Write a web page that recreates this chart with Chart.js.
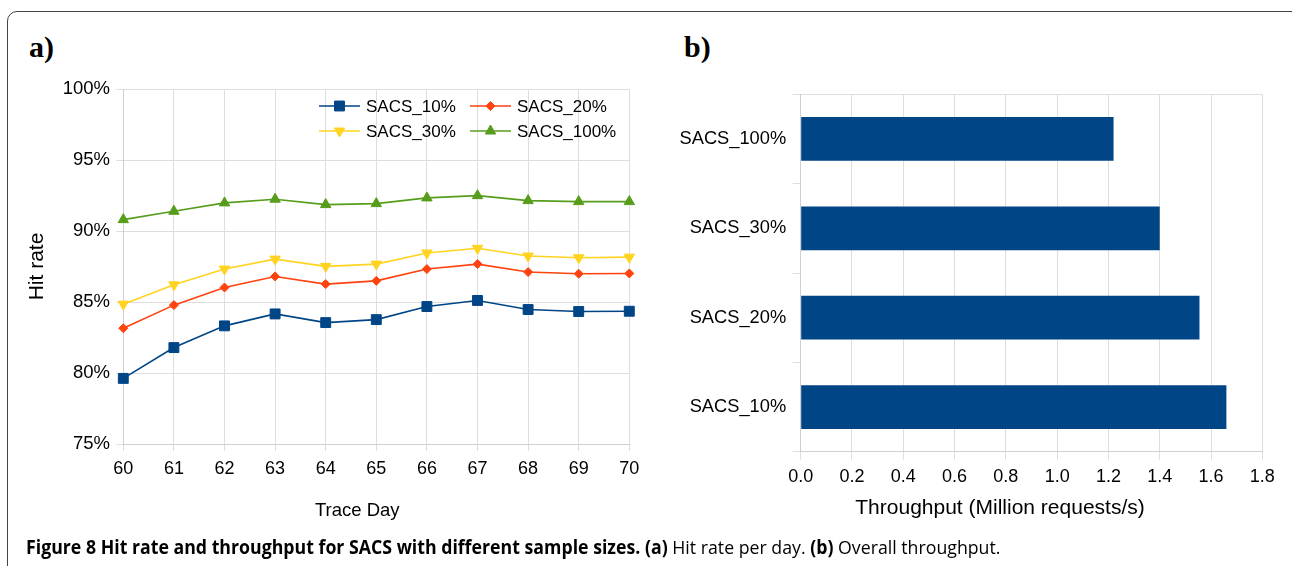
<!DOCTYPE html>
<html><head><meta charset="utf-8">
<script src="https://cdn.jsdelivr.net/npm/chart.js@4.4.1/dist/chart.umd.min.js"></script>
<style>
html,body{margin:0;padding:0;width:1292px;height:566px;overflow:hidden;background:#fff;}
#frame{position:absolute;left:7px;top:11px;width:1310px;height:620px;border:1.5px solid #444;border-radius:10px;box-sizing:border-box;}
.panel{position:absolute;font-family:"Liberation Serif",serif;font-weight:bold;font-size:30px;line-height:30px;color:#000;}
#caption{position:absolute;left:26px;top:538px;font-family:"Open Sans",sans-serif;font-size:19px;line-height:19px;white-space:nowrap;color:#000;transform:scaleX(0.933);transform-origin:0 0;}
.wrap{position:absolute;top:0;height:566px;}
</style></head>
<body>
<div id="frame"></div>
<div class="panel" style="left:29px;top:32px">a)</div>
<div class="panel" style="left:684px;top:32px">b)</div>
<div class="wrap" style="left:0;width:680px"><canvas id="cA"></canvas></div>
<div class="wrap" style="left:660px;width:632px"><canvas id="cB"></canvas></div>
<div id="caption"><b>Figure 8 Hit rate and throughput for SACS with different sample sizes. (a)</b> Hit rate per day. <b>(b)</b> Overall throughput.</div>
<script>
// ---- data ----
const days = ['60','61','62','63','64','65','66','67','68','69','70'];
const sacs10  = [79.62, 81.79, 83.32, 84.16, 83.55, 83.76, 84.68, 85.11, 84.47, 84.33, 84.35];
const sacs20  = [83.15, 84.78, 86.02, 86.80, 86.26, 86.49, 87.32, 87.67, 87.11, 86.99, 87.01];
const sacs30  = [84.85, 86.21, 87.32, 88.02, 87.51, 87.67, 88.45, 88.78, 88.24, 88.12, 88.16];
const sacs100 = [90.80, 91.39, 91.98, 92.24, 91.86, 91.93, 92.33, 92.49, 92.14, 92.07, 92.07];
const seriesLabels = ['SACS_10%','SACS_20%','SACS_30%','SACS_100%'];
const barCategories = ['SACS_100%','SACS_30%','SACS_20%','SACS_10%'];
const throughput = [1.22, 1.40, 1.555, 1.66];

const FAM = '"Liberation Sans", Arial, sans-serif';
Chart.defaults.font.family = FAM;
Chart.defaults.font.size = 17;
Chart.defaults.color = '#000';
Chart.defaults.animation = false;

const GRID = '#dedede', BORDER = '#cfcfcf';

const legendPlugin = {
  id: 'boxLegend',
  afterDraw(chart, args, o) {
    if (!o || !o.display) return;
    const ctx = chart.ctx;
    chart.data.datasets.forEach((ds, i) => {
      const col = i % 2, row = Math.floor(i / 2);
      const x0 = o.x + col * o.colW, y = o.y + row * o.rowH;
      ctx.save();
      ctx.strokeStyle = ds.borderColor; ctx.lineWidth = ds.borderWidth;
      ctx.beginPath(); ctx.moveTo(x0, y); ctx.lineTo(x0 + o.lineLen, y); ctx.stroke();
      ctx.fillStyle = ds.pointBackgroundColor; ctx.strokeStyle = ds.borderColor; ctx.lineWidth = 1;
      Chart.helpers.drawPoint(ctx, {pointStyle: ds.pointStyle, radius: ds.pointRadius, rotation: ds.pointRotation || 0, borderWidth: 1}, x0 + o.lineLen / 2, y);
      ctx.fillStyle = '#000'; ctx.font = o.size + 'px ' + FAM;
      ctx.textAlign = 'left'; ctx.textBaseline = 'middle';
      ctx.fillText(ds.label, x0 + o.lineLen + o.gap, y + 1);
      ctx.restore();
    });
  }
};
const xTitlePlugin = {
  id: 'xTitle',
  afterDraw(chart, args, o) {
    if (!o || !o.text) return;
    const ca = chart.chartArea, ctx = chart.ctx;
    ctx.save();
    ctx.font = o.size + 'px ' + FAM;
    ctx.fillStyle = '#000'; ctx.textAlign = 'center'; ctx.textBaseline = 'middle';
    ctx.fillText(o.text, (ca.left + ca.right) / 2 + o.dx, ca.bottom + o.dy);
    ctx.restore();
  }
};

function mk(label, data, color, style, radius, rot) {
  return {label, data, borderColor: color, backgroundColor: color, pointBackgroundColor: color,
    pointBorderColor: color, borderWidth: 1.6, pointStyle: style, pointRadius: radius, pointHoverRadius: radius,
    pointRotation: rot || 0, pointBorderWidth: 1, tension: 0};
}

new Chart(document.getElementById('cA'), {
  type: 'line',
  data: {
    labels: days,
    datasets: [
      mk(seriesLabels[0], sacs10, '#004586', 'rect', 7),
      mk(seriesLabels[1], sacs20, '#ff420e', 'rectRot', 4.5),
      mk(seriesLabels[2], sacs30, '#ffd320', 'triangle', 6, 180),
      mk(seriesLabels[3], sacs100, '#579d1c', 'triangle', 6)
    ]
  },
  options: {
    responsive: true, maintainAspectRatio: false,
    layout: {padding: {left: 0, top: 89, right: 50.7, bottom: 62}},
    plugins: {
      legend: {display: false}, tooltip: {enabled: false},
      boxLegend: {display: true, x: 319, y: 106, colW: 151, rowH: 25, lineLen: 41, gap: 6, size: 17},
      xTitle: {text: 'Trace Day', dx: -19, dy: 67, size: 18.5}
    },
    scales: {
      x: {
        offset: false,
        grid: {color: GRID, tickLength: 7, tickColor: GRID},
        border: {color: BORDER},
        ticks: {padding: 7, maxRotation: 0, autoSkip: false, font: {size: 18}},
        afterFit(s) { s.height = 60; }
      },
      y: {
        min: 75, max: 100,
        grid: {color: GRID, tickLength: 7, tickColor: GRID},
        border: {color: BORDER},
        ticks: {stepSize: 5, padding: 6.3, callback: v => v + '%', font: {size: 18.5}},
        title: {display: true, text: 'Hit rate', font: {size: 21}, padding: {top: 24.4, bottom: 0}},
        afterFit(s) { s.width = 123.3; }
      }
    }
  },
  plugins: [legendPlugin, xTitlePlugin]
});

new Chart(document.getElementById('cB'), {
  type: 'bar',
  data: {
    labels: barCategories,
    datasets: [{label: 'Throughput', data: throughput, backgroundColor: '#004586', borderWidth: 0,
      barPercentage: 0.49, categoryPercentage: 1}]
  },
  options: {
    indexAxis: 'y',
    responsive: true, maintainAspectRatio: false,
    layout: {padding: {left: 0, top: 94.3, right: 29.7, bottom: 54.3}},
    plugins: {
      legend: {display: false}, tooltip: {enabled: false},
      xTitle: {text: 'Throughput (Million requests/s)', dx: -31.5, dy: 57, size: 21}
    },
    scales: {
      x: {
        min: 0, max: 1.8,
        grid: {color: GRID, tickLength: 8, tickColor: GRID},
        border: {color: BORDER},
        ticks: {stepSize: 0.2, padding: 7, callback: v => v.toFixed(1), font: {size: 18}},
        afterFit(s) { s.height = 60; }
      },
      y: {
        grid: {offset: true, tickLength: 8, tickColor: GRID,
          color: c => (c.index === 0 ? GRID : 'rgba(0,0,0,0)')},
        border: {color: BORDER},
        ticks: {padding: 6.5, font: {size: 18.3}},
        afterFit(s) { s.width = 140.7; }
      }
    }
  },
  plugins: [xTitlePlugin]
});
</script>
</body></html>
